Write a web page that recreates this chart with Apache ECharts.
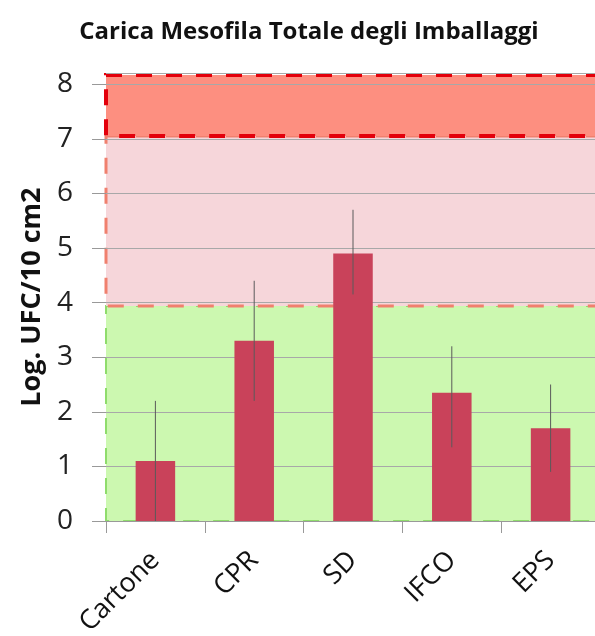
<!DOCTYPE html>
<html>
<head>
<meta charset="utf-8">
<script src="https://cdn.jsdelivr.net/npm/echarts@6/dist/echarts.min.js"></script>
<style>html,body{margin:0;padding:0;background:#fff;overflow:hidden;}#c{width:595px;height:636px;}</style>
</head>
<body>
<div id="c"></div>
<script>
var categories = ['Cartone', 'CPR', 'SD', 'IFCO', 'EPS'];
var values = [1.1, 3.3, 4.9, 2.35, 1.7];
var errLow = [0.0, 2.2, 4.15, 1.35, 0.9];
var errHigh = [2.2, 4.4, 5.7, 3.2, 2.5];
var yTicks = [0, 1, 2, 3, 4, 5, 6, 7, 8];
var greenBand = [0, 3.94];
var pinkBand = [3.94, 7.05];
var redBand = [7.05, 8.17];

var chart = echarts.init(document.getElementById('c'));
var font = '"Open Sans", "Noto Sans", sans-serif';

function band(r, fill, border, bw) {
  return [{ yAxis: r[1], itemStyle: { color: fill, borderColor: border, borderWidth: bw, borderType: [16, 14] } }, { yAxis: r[0] }];
}

chart.setOption({
  animation: false,
  title: {
    text: 'Carica Mesofila Totale degli Imballaggi',
    left: 304, top: 15, textAlign: 'center',
    textStyle: { fontFamily: font, fontSize: 24, fontWeight: 'bold', color: '#111' }
  },
  grid: { left: 106, width: 494, top: 73.3, bottom: 115, outerBoundsMode: 'none', containLabel: false },
  xAxis: {
    type: 'category', data: categories,
    axisLine: { lineStyle: { color: '#999', width: 1 } },
    axisTick: { show: true, length: 12, lineStyle: { color: '#999' } },
    axisLabel: { rotate: 45, fontSize: 27, fontFamily: font, color: '#111', margin: 35 },
    z: 3
  },
  yAxis: {
    type: 'value', min: 0, max: 8.2, interval: 1,
    name: 'Log. UFC/10 cm2', nameLocation: 'middle', nameGap: 60,
    nameTextStyle: { fontFamily: font, fontSize: 27, fontWeight: 'bold', color: '#111' },
    axisLine: { show: false },
    axisTick: { show: true, length: 14, lineStyle: { color: '#999' } },
    axisLabel: {
      fontSize: 28, fontFamily: font, color: '#222', margin: 33, showMaxLabel: false,
      formatter: function (v) { return yTicks.indexOf(v) >= 0 ? String(v) : ''; }
    },
    splitLine: { lineStyle: { color: '#a8a8a8', width: 1 } },
    z: 1
  },
  series: [
    {
      type: 'line', data: [], z: 0, silent: true,
      markArea: {
        silent: true, z: 0,
        data: [
          band(greenBand, '#ccf8b0', '#8fdc6c', 2),
          band(pinkBand, '#f6d6da', '#f0806e', 3),
          band(redBand, '#fd8f80', '#e3000b', 4)
        ]
      }
    },
    {
      type: 'bar', data: values, barWidth: '40%', z: 2,
      itemStyle: { color: '#c9425a', borderColor: '#e8a050', borderWidth: 0 }
    },
    {
      type: 'custom', z: 4,
      data: categories.map(function (c, i) { return [i, errLow[i], errHigh[i]]; }),
      renderItem: function (params, api) {
        var lo = api.coord([api.value(0), api.value(1)]);
        var hi = api.coord([api.value(0), api.value(2)]);
        return { type: 'line', shape: { x1: lo[0], y1: lo[1], x2: hi[0], y2: hi[1] }, style: { stroke: '#5a5a5a', lineWidth: 1 } };
      }
    }
  ]
});
</script>
</body>
</html>
